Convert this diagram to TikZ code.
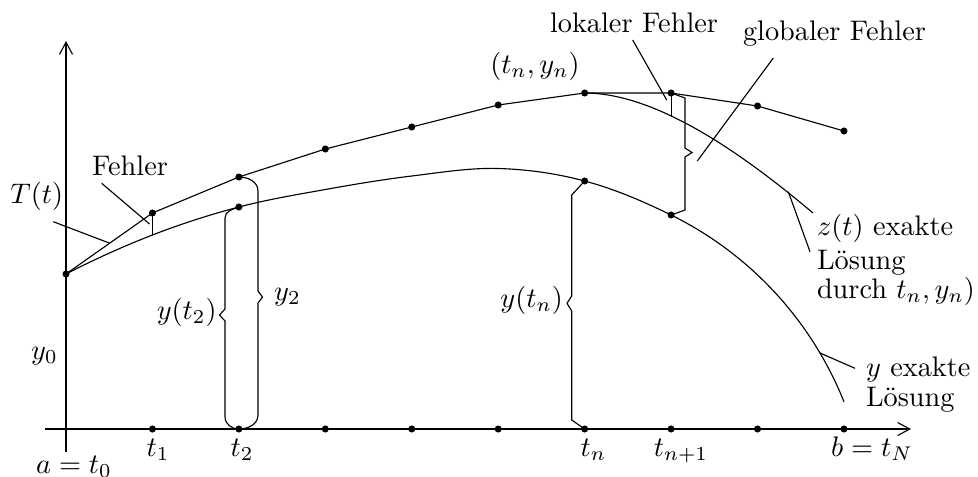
\documentclass[tikz,border=0pt]{standalone}
\usetikzlibrary{arrows.meta}
\begin{document}
\begin{tikzpicture}[x=0.3534pt,y=-0.3534pt,
  dot/.style={circle,fill,inner sep=0pt,minimum size=2.5pt},
  lbl/.style={inner sep=0pt,outer sep=0pt},
  thinline/.style={line width=0.4pt},
  axis/.style={line width=0.4pt,-{Straight Barb[length=4.3pt,width=4.6pt]}}]
\useasboundingbox (0,0) rectangle (978,477);

% axes
\coordinate (xaxA) at (45,429);
\coordinate (xaxB) at (911,429);
\coordinate (yaxA) at (66,452);
\coordinate (yaxB) at (66,41);
\draw[axis] (xaxA) -- (xaxB);
\draw[axis] (yaxA) -- (yaxB);

% grid dots t_1 ... t_N
\foreach \i in {1,...,9} \node[dot] (g\i) at ({66+86.44*\i},429) {};

% Euler polygon
\node[dot] (p0) at (66,274) {};
\node[dot] (p1) at (152.44,213) {};
\node[dot] (p2) at (238.88,177) {};
\node[dot] (p3) at (325.32,149) {};
\node[dot] (p4) at (411.76,127) {};
\node[dot] (p5) at (498.2,105) {};
\node[dot] (p6) at (584.64,93) {};
\node[dot] (p7) at (671.08,93) {};
\node[dot] (p8) at (757.52,106) {};
\node[dot] (p9) at (843.96,131) {};
\draw[thinline] (p0.center) -- (p1.center) -- (p2.center) -- (p3.center) -- (p4.center)
  -- (p5.center) -- (p6.center) -- (p7.center) -- (p8.center) -- (p9.center);

% exact solution y
\coordinate (y1) at (152.44,235);
\node[dot] (y2) at (238.88,207) {};
\coordinate (y3) at (325.32,189.5);
\coordinate (y4) at (411.76,176);
\coordinate (y5) at (498.2,168.5);
\node[dot] (yn) at (584.64,181) {};
\node[dot] (yn1) at (671.08,215) {};
\coordinate (yend) at (844,401.8);
\draw[thinline] (p0.center)
  .. controls (94.81,259.17) and (123.63,246.17) .. (y1)
  .. controls (181.25,223.83) and (210.07,214.58) .. (y2.center)
  .. controls (267.69,199.42) and (296.51,194.67) .. (y3)
  .. controls (354.13,184.33) and (382.95,179.5) .. (y4)
  .. controls (440.57,172.5) and (469.39,167.67) .. (y5)
  .. controls (527.01,169.33) and (555.83,173.25) .. (yn.center)
  .. controls (613.45,188.63) and (642.27,200.82) .. (yn1.center)
  .. controls (749.82,253.75) and (811.41,320.31) .. (yend);

% exact solution z through (t_n,y_n)
\coordinate (z7) at (671.08,117);
\coordinate (zend) at (813,213);
\draw[thinline] (p6.center) .. controls (660,93) and (750,160) .. (zend);

% error bars
\draw[thinline] (p1.center) -- (y1);
\draw[thinline] (p7.center) -- (z7);

% braces
\draw[thinline] (p2.center) to[out=0,in=90] (258,191) -- (258,291) -- (262.5,297) -- (258,303)
  -- (258,415) to[out=-90,in=0] (g2.center);
\draw[thinline] (y2.center) to[out=200,in=90] (225,218) -- (225,309) -- (219.5,315) -- (225,321)
  -- (225,417) to[out=-90,in=180] (g2.center);
\draw[thinline] (yn.center) -- (571.7,195) -- (571.7,296) -- (567,303.3) -- (571.7,311)
  -- (571.7,420) -- (g6.center);
\draw[thinline] (p7.center) -- (685,98) -- (685,148) -- (692,152.5) -- (685,157)
  -- (685,210) -- (yn1.center);

% leader lines
\coordinate (fa) at (101.7,183.3); \coordinate (fb) at (149.5,224);
\coordinate (ta) at (53.3,221.7);  \coordinate (tb) at (110,243.3);
\coordinate (la) at (632.7,40);    \coordinate (lb) at (666.7,100);
\coordinate (ga) at (773.3,58);    \coordinate (gb) at (697.3,161);
\coordinate (za) at (788.3,191.7); \coordinate (zb) at (810,251.7);
\coordinate (ea) at (820,353);     \coordinate (eb) at (855,368.3);
\draw[thinline] (fa) -- (fb);
\draw[thinline] (ta) -- (tb);
\draw[thinline] (la) -- (lb);
\draw[thinline] (ga) -- (gb);
\draw[thinline] (za) -- (zb);
\draw[thinline] (ea) -- (eb);

% labels
\node[lbl,anchor=base west] (fehler) at (92,175) {Fehler};
\node[lbl,anchor=base] (Tt) at (36.7,203) {$T(t)$};
\node[lbl,anchor=base east] (lokal) at (718,32) {lokaler Fehler};
\node[lbl,anchor=base west] (global) at (743,40) {globaler Fehler};
\node[lbl,anchor=base] (tnyn) at (535,73) {$(t_n,y_n)$};
\node[lbl,anchor=base] (ylab0) at (44.5,359) {$y_0$};
\node[lbl,anchor=base] (ylab2) at (287.5,300) {$y_2$};
\node[lbl,anchor=base] (yt2) at (186.7,319) {$y(t_2)$};
\node[lbl,anchor=base] (ytn) at (531.7,307) {$y(t_n)$};
\node[lbl,anchor=base west] (zl1) at (817,235.5) {$z(t)$ exakte};
\node[lbl,anchor=base west] (zl2) at (817,269) {Lösung};
\node[lbl,anchor=base west] (zl3) at (817,298.5) {durch $t_n,y_n)$};
\node[lbl,anchor=base west] (yl1) at (866,376.5) {$y$ exakte};
\node[lbl,anchor=base west] (yl2) at (866,406.5) {Lösung};
\node[lbl,anchor=base] (lt1) at (158,456) {$t_1$};
\node[lbl,anchor=base] (lt2) at (242,456) {$t_2$};
\node[lbl,anchor=base] (ltn) at (593.5,456) {$t_n$};
\node[lbl,anchor=base] (ltn1) at (681,456) {$t_{n+1}$};
\node[lbl,anchor=base] (ltN) at (872,456) {$b=t_N$};
\node[lbl,anchor=base] (lt0) at (74,473) {$a=t_0$};
\end{tikzpicture}
\end{document}
